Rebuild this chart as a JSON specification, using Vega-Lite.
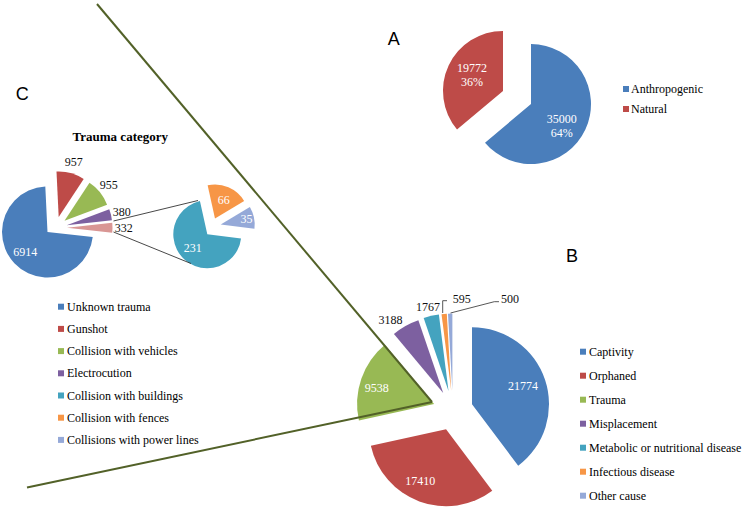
{
 "$schema": "https://vega.github.io/schema/vega-lite/v6.json",
 "width": 745,
 "height": 511,
 "autosize": "none",
 "padding": 0,
 "background": "white",
 "config": {"view": {"stroke": null}, "text": {"font": "Liberation Serif", "fontSize": 12}, "legend": {"labelFont": "Liberation Serif", "labelFontSize": 12, "labelColor": "#000", "labelFontWeight": "normal"}},
 "datasets": {
  "a": [
   {"category": "Anthropogenic", "value": 35000, "pct": "64%", "order": 1},
   {"category": "Natural", "value": 19772, "pct": "36%", "order": 2}
  ],
  "b": [
   {"category": "Captivity", "value": 21774, "order": 1},
   {"category": "Orphaned", "value": 17410, "order": 2},
   {"category": "Trauma", "value": 9538, "order": 3},
   {"category": "Misplacement", "value": 3188, "order": 4},
   {"category": "Metabolic or nutritional disease", "value": 1767, "order": 5},
   {"category": "Infectious disease", "value": 595, "order": 6},
   {"category": "Other cause", "value": 500, "order": 7}
  ],
  "c": [
   {"category": "Unknown trauma", "value": 6914, "order": 1},
   {"category": "Gunshot", "value": 957, "order": 2},
   {"category": "Collision with vehicles", "value": 955, "order": 3},
   {"category": "Electrocution", "value": 380, "order": 4},
   {"category": "Other collisions", "value": 332, "order": 5}
  ],
  "csub": [
   {"category": "Collision with buildings", "value": 231, "order": 1},
   {"category": "Collision with fences", "value": 66, "order": 2},
   {"category": "Collisions with power lines", "value": 35, "order": 3}
  ]
 },
 "resolve": {"scale": {"color": "independent", "theta": "independent"}},
 "layer": [
  {
   "data": {"name": "a"},
   "transform": [{"stack": "value", "groupby": [], "sort": [{"field": "order", "order": "ascending"}], "offset": "normalize", "as": ["s0", "s1"]}],
   "encoding": {
    "x": {"datum": 517, "type": "quantitative", "scale": {"domain": [0, 745], "nice": false, "zero": false}, "axis": null},
    "y": {"datum": 97.5, "type": "quantitative", "scale": {"domain": [0, 511], "nice": false, "zero": false, "reverse": true}, "axis": null},
    "color": {"field": "category", "type": "nominal",
     "scale": {"domain": ["Anthropogenic", "Natural"], "range": ["#4a7ebb", "#be4b48"]},
     "legend": {"title": null, "orient": "none", "legendX": 620, "legendY": 83, "symbolType": "square", "symbolSize": 36, "symbolStrokeWidth": 0, "labelFont": "Liberation Serif", "labelFontSize": 12, "labelColor": "#000", "labelOffset": -1, "rowPadding": 8, "padding": 0, "labelLimit": 300}}
   },
   "layer": [
    {"transform": [{"filter": "datum.category === 'Anthropogenic'"}], "mark": {"type": "arc", "outerRadius": 60, "xOffset": 14, "yOffset": 6.6},
     "encoding": {"theta": {"field": "s0", "type": "quantitative", "scale": {"domain": [0, 1], "range": [0, 6.283185]}}, "theta2": {"field": "s1"}}},
    {"transform": [{"filter": "datum.category === 'Natural'"}], "mark": {"type": "arc", "outerRadius": 60, "xOffset": -14, "yOffset": -6.6},
     "encoding": {"theta": {"field": "s0", "type": "quantitative", "scale": {"domain": [0, 1], "range": [0, 6.283185]}}, "theta2": {"field": "s1"}}},
    {"mark": {"type": "text", "radius": 52, "xOffset": -2.4, "yOffset": 6.8, "dy": -7},
     "encoding": {"theta": {"field": "value", "type": "quantitative", "stack": "normalize", "scale": {"domain": [0, 1], "range": [0, 6.283185]}}, "order": {"field": "order", "type": "quantitative"}, "color": {"value": "white"},
      "text": {"condition": {"test": "datum.category === 'Anthropogenic'", "field": "value", "type": "quantitative", "format": "d"}, "value": ""}}},
    {"mark": {"type": "text", "radius": 52, "xOffset": -2.4, "yOffset": 6.8, "dy": 7},
     "encoding": {"theta": {"field": "value", "type": "quantitative", "stack": "normalize", "scale": {"domain": [0, 1], "range": [0, 6.283185]}}, "order": {"field": "order", "type": "quantitative"}, "color": {"value": "white"},
      "text": {"condition": {"test": "datum.category === 'Anthropogenic'", "field": "pct", "type": "nominal"}, "value": ""}}},
    {"mark": {"type": "text", "radius": 52, "xOffset": 2.1, "yOffset": -0.5, "dy": -7},
     "encoding": {"theta": {"field": "value", "type": "quantitative", "stack": "normalize", "scale": {"domain": [0, 1], "range": [0, 6.283185]}}, "order": {"field": "order", "type": "quantitative"}, "color": {"value": "white"},
      "text": {"condition": {"test": "datum.category === 'Natural'", "field": "value", "type": "quantitative", "format": "d"}, "value": ""}}},
    {"mark": {"type": "text", "radius": 52, "xOffset": 2.1, "yOffset": -0.5, "dy": 7},
     "encoding": {"theta": {"field": "value", "type": "quantitative", "stack": "normalize", "scale": {"domain": [0, 1], "range": [0, 6.283185]}}, "order": {"field": "order", "type": "quantitative"}, "color": {"value": "white"},
      "text": {"condition": {"test": "datum.category === 'Natural'", "field": "pct", "type": "nominal"}, "value": ""}}}
   ]
  },
  {
   "data": {"name": "b"},
   "transform": [{"stack": "value", "groupby": [], "sort": [{"field": "order", "order": "ascending"}], "offset": "normalize", "as": ["s0", "s1"]}],
   "encoding": {
    "x": {"datum": 453, "type": "quantitative", "scale": {"domain": [0, 745], "nice": false, "zero": false}, "axis": null},
    "y": {"datum": 410.5, "type": "quantitative", "scale": {"domain": [0, 511], "nice": false, "zero": false, "reverse": true}, "axis": null},
    "color": {"field": "category", "type": "nominal",
     "scale": {"domain": ["Captivity", "Orphaned", "Trauma", "Misplacement", "Metabolic or nutritional disease", "Infectious disease", "Other cause"], "range": ["#4a7ebb", "#be4b48", "#98b954", "#7d60a0", "#44a3bf", "#f79646", "#95a9d8"]},
     "legend": {"title": null, "orient": "none", "legendX": 577, "legendY": 345.7, "symbolType": "square", "symbolSize": 36, "symbolStrokeWidth": 0, "labelFont": "Liberation Serif", "labelFontSize": 12, "labelColor": "#000", "labelOffset": 0, "rowPadding": 12, "padding": 0, "labelLimit": 300}}
   },
   "layer": [
    {"transform": [{"filter": "datum.category === 'Captivity'"}], "mark": {"type": "arc", "outerRadius": 77, "xOffset": 19, "yOffset": -6.3},
     "encoding": {"theta": {"field": "s0", "type": "quantitative", "scale": {"domain": [0, 1], "range": [0, 6.283185]}}, "theta2": {"field": "s1"}}},
    {"transform": [{"filter": "datum.category === 'Orphaned'"}], "mark": {"type": "arc", "outerRadius": 77, "xOffset": -6.95, "yOffset": 18.75},
     "encoding": {"theta": {"field": "s0", "type": "quantitative", "scale": {"domain": [0, 1], "range": [0, 6.283185]}}, "theta2": {"field": "s1"}}},
    {"transform": [{"filter": "datum.category === 'Trauma'"}], "mark": {"type": "arc", "outerRadius": 77, "xOffset": -18.9, "yOffset": -6.5},
     "encoding": {"theta": {"field": "s0", "type": "quantitative", "scale": {"domain": [0, 1], "range": [0, 6.283185]}}, "theta2": {"field": "s1"}}},
    {"transform": [{"filter": "datum.category === 'Misplacement'"}], "mark": {"type": "arc", "outerRadius": 77, "xOffset": -9.8, "yOffset": -17.4},
     "encoding": {"theta": {"field": "s0", "type": "quantitative", "scale": {"domain": [0, 1], "range": [0, 6.283185]}}, "theta2": {"field": "s1"}}},
    {"transform": [{"filter": "datum.category === 'Metabolic or nutritional disease'"}], "mark": {"type": "arc", "outerRadius": 77, "xOffset": -4.5, "yOffset": -19.5},
     "encoding": {"theta": {"field": "s0", "type": "quantitative", "scale": {"domain": [0, 1], "range": [0, 6.283185]}}, "theta2": {"field": "s1"}}},
    {"transform": [{"filter": "datum.category === 'Infectious disease'"}], "mark": {"type": "arc", "outerRadius": 77, "xOffset": -1.8, "yOffset": -19.9},
     "encoding": {"theta": {"field": "s0", "type": "quantitative", "scale": {"domain": [0, 1], "range": [0, 6.283185]}}, "theta2": {"field": "s1"}}},
    {"transform": [{"filter": "datum.category === 'Other cause'"}], "mark": {"type": "arc", "outerRadius": 77, "xOffset": -0.6, "yOffset": -20},
     "encoding": {"theta": {"field": "s0", "type": "quantitative", "scale": {"domain": [0, 1], "range": [0, 6.283185]}}, "theta2": {"field": "s1"}}},
    {"mark": {"type": "text", "radius": 77, "xOffset": -3, "yOffset": 0},
     "encoding": {"theta": {"field": "value", "type": "quantitative", "stack": "normalize", "scale": {"domain": [0, 1], "range": [0, 6.283185]}}, "order": {"field": "order", "type": "quantitative"}, "color": {"value": "white"},
      "text": {"condition": {"test": "datum.category === 'Captivity'", "field": "value", "type": "quantitative", "format": "d"}, "value": ""}}},
    {"mark": {"type": "text", "radius": 77, "xOffset": -6, "yOffset": -2},
     "encoding": {"theta": {"field": "value", "type": "quantitative", "stack": "normalize", "scale": {"domain": [0, 1], "range": [0, 6.283185]}}, "order": {"field": "order", "type": "quantitative"}, "color": {"value": "white"},
      "text": {"condition": {"test": "datum.category === 'Orphaned'", "field": "value", "type": "quantitative", "format": "d"}, "value": ""}}},
    {"mark": {"type": "text", "radius": 77, "xOffset": -3.5, "yOffset": 2.7},
     "encoding": {"theta": {"field": "value", "type": "quantitative", "stack": "normalize", "scale": {"domain": [0, 1], "range": [0, 6.283185]}}, "order": {"field": "order", "type": "quantitative"}, "color": {"value": "white"},
      "text": {"condition": {"test": "datum.category === 'Trauma'", "field": "value", "type": "quantitative", "format": "d"}, "value": ""}}},
    {"mark": {"type": "text", "radius": 108, "xOffset": -9.7, "yOffset": 3.4},
     "encoding": {"theta": {"field": "value", "type": "quantitative", "stack": "normalize", "scale": {"domain": [0, 1], "range": [0, 6.283185]}}, "order": {"field": "order", "type": "quantitative"}, "color": {"value": "#111"},
      "text": {"condition": {"test": "datum.category === 'Misplacement'", "field": "value", "type": "quantitative", "format": "d"}, "value": ""}}},
    {"mark": {"type": "text", "radius": 108, "xOffset": -0.7, "yOffset": 1.4},
     "encoding": {"theta": {"field": "value", "type": "quantitative", "stack": "normalize", "scale": {"domain": [0, 1], "range": [0, 6.283185]}}, "order": {"field": "order", "type": "quantitative"}, "color": {"value": "#111"},
      "text": {"condition": {"test": "datum.category === 'Metabolic or nutritional disease'", "field": "value", "type": "quantitative", "format": "d"}, "value": ""}}},
    {"mark": {"type": "text", "radius": 108, "xOffset": 18.6, "yOffset": -3.8},
     "encoding": {"theta": {"field": "value", "type": "quantitative", "stack": "normalize", "scale": {"domain": [0, 1], "range": [0, 6.283185]}}, "order": {"field": "order", "type": "quantitative"}, "color": {"value": "#111"},
      "text": {"condition": {"test": "datum.category === 'Infectious disease'", "field": "value", "type": "quantitative", "format": "d"}, "value": ""}}},
    {"mark": {"type": "text", "radius": 108, "xOffset": 60.1, "yOffset": -3.3},
     "encoding": {"theta": {"field": "value", "type": "quantitative", "stack": "normalize", "scale": {"domain": [0, 1], "range": [0, 6.283185]}}, "order": {"field": "order", "type": "quantitative"}, "color": {"value": "#111"},
      "text": {"condition": {"test": "datum.category === 'Other cause'", "field": "value", "type": "quantitative", "format": "d"}, "value": ""}}}
   ]
  },
  {
   "encoding": {
    "color": {"field": "category", "type": "nominal",
     "scale": {"domain": ["Unknown trauma", "Gunshot", "Collision with vehicles", "Electrocution", "Collision with buildings", "Collision with fences", "Collisions with power lines"], "range": ["#4a7ebb", "#be4b48", "#98b954", "#7d60a0", "#44a3bf", "#f79646", "#95a9d8"]},
     "legend": {"title": null, "orient": "none", "legendX": 55, "legendY": 300.7, "symbolType": "square", "symbolSize": 36, "symbolStrokeWidth": 0, "labelFont": "Liberation Serif", "labelFontSize": 12, "labelColor": "#000", "labelOffset": 0, "rowPadding": 10.2, "padding": 0, "labelLimit": 300}}
   },
   "resolve": {"scale": {"theta": "independent"}},
   "layer": [
    {
     "data": {"name": "c"},
     "transform": [{"stack": "value", "groupby": [], "sort": [{"field": "order", "order": "ascending"}], "offset": "normalize", "as": ["s0", "s1"]}],
     "encoding": {
      "x": {"datum": 55.7, "type": "quantitative", "scale": {"domain": [0, 745], "nice": false, "zero": false}, "axis": null},
      "y": {"datum": 227.8, "type": "quantitative", "scale": {"domain": [0, 511], "nice": false, "zero": false, "reverse": true}, "axis": null}
     },
     "layer": [
      {"transform": [{"filter": "datum.category === 'Unknown trauma'"}], "mark": {"type": "arc", "outerRadius": 45.5, "xOffset": -8.2, "yOffset": 4.2},
       "encoding": {"theta": {"field": "s0", "type": "quantitative", "scale": {"domain": [0, 1], "range": [1.6802, 7.9634]}}, "theta2": {"field": "s1"}}},
      {"transform": [{"filter": "datum.category === 'Gunshot'"}], "mark": {"type": "arc", "outerRadius": 45.5, "xOffset": 3, "yOffset": -10.9},
       "encoding": {"theta": {"field": "s0", "type": "quantitative", "scale": {"domain": [0, 1], "range": [1.6802, 7.9634]}}, "theta2": {"field": "s1"}}},
      {"transform": [{"filter": "datum.category === 'Collision with vehicles'"}], "mark": {"type": "arc", "outerRadius": 45.5, "xOffset": 8.8, "yOffset": -7.05},
       "encoding": {"theta": {"field": "s0", "type": "quantitative", "scale": {"domain": [0, 1], "range": [1.6802, 7.9634]}}, "theta2": {"field": "s1"}}},
      {"transform": [{"filter": "datum.category === 'Electrocution'"}], "mark": {"type": "arc", "outerRadius": 45.5, "xOffset": 11, "yOffset": -2.6},
       "encoding": {"theta": {"field": "s0", "type": "quantitative", "scale": {"domain": [0, 1], "range": [1.6802, 7.9634]}}, "theta2": {"field": "s1"}}},
      {"transform": [{"filter": "datum.category === 'Other collisions'"}], "mark": {"type": "arc", "outerRadius": 45.5, "xOffset": 11.3, "yOffset": 0},
       "encoding": {"theta": {"field": "s0", "type": "quantitative", "scale": {"domain": [0, 1], "range": [1.6802, 7.9634]}}, "theta2": {"field": "s1"}, "color": {"value": "#d99694"}}},
      {"mark": {"type": "text", "radius": 39, "xOffset": -2, "yOffset": -2.8},
       "encoding": {"theta": {"field": "value", "type": "quantitative", "stack": "normalize", "scale": {"domain": [0, 1], "range": [1.6802, 7.9634]}}, "order": {"field": "order", "type": "quantitative"}, "color": {"value": "white"},
        "text": {"condition": {"test": "datum.order === 1", "field": "value", "type": "quantitative", "format": "d"}, "value": ""}}},
      {"mark": {"type": "text", "radius": 68},
       "encoding": {"theta": {"field": "value", "type": "quantitative", "stack": "normalize", "scale": {"domain": [0, 1], "range": [1.6802, 7.9634]}}, "order": {"field": "order", "type": "quantitative"}, "color": {"value": "#111"},
        "text": {"condition": {"test": "datum.order > 1", "field": "value", "type": "quantitative", "format": "d"}, "value": ""}}}
     ]
    },
    {
     "data": {"name": "csub"},
     "transform": [{"stack": "value", "groupby": [], "sort": [{"field": "order", "order": "ascending"}], "offset": "normalize", "as": ["s0", "s1"]}],
     "encoding": {
      "x": {"datum": 212.3, "type": "quantitative", "scale": {"domain": [0, 745], "nice": false, "zero": false}, "axis": null},
      "y": {"datum": 226.5, "type": "quantitative", "scale": {"domain": [0, 511], "nice": false, "zero": false, "reverse": true}, "axis": null}
     },
     "layer": [
      {"transform": [{"filter": "datum.category === 'Collision with buildings'"}], "mark": {"type": "arc", "outerRadius": 34, "xOffset": -5, "yOffset": 7.8},
       "encoding": {"theta": {"field": "s0", "type": "quantitative", "scale": {"domain": [0, 1], "range": [1.693, 7.976185]}}, "theta2": {"field": "s1"}}},
      {"transform": [{"filter": "datum.category === 'Collision with fences'"}], "mark": {"type": "arc", "outerRadius": 34, "xOffset": 2.7, "yOffset": -8},
       "encoding": {"theta": {"field": "s0", "type": "quantitative", "scale": {"domain": [0, 1], "range": [1.693, 7.976185]}}, "theta2": {"field": "s1"}}},
      {"transform": [{"filter": "datum.category === 'Collisions with power lines'"}], "mark": {"type": "arc", "outerRadius": 34, "xOffset": 8.4, "yOffset": -2},
       "encoding": {"theta": {"field": "s0", "type": "quantitative", "scale": {"domain": [0, 1], "range": [1.693, 7.976185]}}, "theta2": {"field": "s1"}}},
      {"mark": {"type": "text", "radius": 29},
       "encoding": {"theta": {"field": "value", "type": "quantitative", "stack": "normalize", "scale": {"domain": [0, 1], "range": [1.693, 7.976185]}}, "order": {"field": "order", "type": "quantitative"}, "color": {"value": "white"},
        "text": {"condition": {"test": "datum.order < 3", "field": "value", "type": "quantitative", "format": "d"}, "value": ""}}},
      {"mark": {"type": "text", "radius": 35},
       "encoding": {"theta": {"field": "value", "type": "quantitative", "stack": "normalize", "scale": {"domain": [0, 1], "range": [1.693, 7.976185]}}, "order": {"field": "order", "type": "quantitative"}, "color": {"value": "white"},
        "text": {"condition": {"test": "datum.order === 3", "field": "value", "type": "quantitative", "format": "d"}, "value": ""}}}
     ]
    }
   ]
  },
  {"data": {"values": [{}]}, "mark": {"type": "rule", "color": "#526128", "strokeWidth": 2},
   "encoding": {"x": {"datum": 97, "type": "quantitative", "scale": {"domain": [0, 745], "nice": false, "zero": false}, "axis": null}, "y": {"datum": 4, "type": "quantitative", "scale": {"domain": [0, 511], "nice": false, "zero": false, "reverse": true}, "axis": null}, "x2": {"datum": 432}, "y2": {"datum": 402}}},
  {"data": {"values": [{}]}, "mark": {"type": "rule", "color": "#526128", "strokeWidth": 2},
   "encoding": {"x": {"datum": 27, "type": "quantitative", "scale": {"domain": [0, 745], "nice": false, "zero": false}, "axis": null}, "y": {"datum": 487.5, "type": "quantitative", "scale": {"domain": [0, 511], "nice": false, "zero": false, "reverse": true}, "axis": null}, "x2": {"datum": 432}, "y2": {"datum": 402}}},
  {"data": {"values": [{}]}, "mark": {"type": "rule", "color": "#333", "strokeWidth": 0.9},
   "encoding": {"x": {"datum": 113.5, "type": "quantitative", "scale": {"domain": [0, 745], "nice": false, "zero": false}, "axis": null}, "y": {"datum": 221, "type": "quantitative", "scale": {"domain": [0, 511], "nice": false, "zero": false, "reverse": true}, "axis": null}, "x2": {"datum": 198}, "y2": {"datum": 200.5}}},
  {"data": {"values": [{}]}, "mark": {"type": "rule", "color": "#333", "strokeWidth": 0.9},
   "encoding": {"x": {"datum": 113.5, "type": "quantitative", "scale": {"domain": [0, 745], "nice": false, "zero": false}, "axis": null}, "y": {"datum": 232, "type": "quantitative", "scale": {"domain": [0, 511], "nice": false, "zero": false, "reverse": true}, "axis": null}, "x2": {"datum": 191}, "y2": {"datum": 263.5}}},
  {"data": {"values": [{}]}, "mark": {"type": "rule", "color": "#444", "strokeWidth": 0.9},
   "encoding": {"x": {"datum": 442.7, "type": "quantitative", "scale": {"domain": [0, 745], "nice": false, "zero": false}, "axis": null}, "y": {"datum": 313, "type": "quantitative", "scale": {"domain": [0, 511], "nice": false, "zero": false, "reverse": true}, "axis": null}, "x2": {"datum": 442.7}, "y2": {"datum": 300.7}}},
  {"data": {"values": [{}]}, "mark": {"type": "rule", "color": "#444", "strokeWidth": 0.9},
   "encoding": {"x": {"datum": 442.7, "type": "quantitative", "scale": {"domain": [0, 745], "nice": false, "zero": false}, "axis": null}, "y": {"datum": 300.7, "type": "quantitative", "scale": {"domain": [0, 511], "nice": false, "zero": false, "reverse": true}, "axis": null}, "x2": {"datum": 447}, "y2": {"datum": 300.7}}},
  {"data": {"values": [{}]}, "mark": {"type": "rule", "color": "#444", "strokeWidth": 0.9},
   "encoding": {"x": {"datum": 450.5, "type": "quantitative", "scale": {"domain": [0, 745], "nice": false, "zero": false}, "axis": null}, "y": {"datum": 313, "type": "quantitative", "scale": {"domain": [0, 511], "nice": false, "zero": false, "reverse": true}, "axis": null}, "x2": {"datum": 494.3}, "y2": {"datum": 301.7}}},
  {"data": {"values": [{}]}, "mark": {"type": "rule", "color": "#444", "strokeWidth": 0.9},
   "encoding": {"x": {"datum": 494.3, "type": "quantitative", "scale": {"domain": [0, 745], "nice": false, "zero": false}, "axis": null}, "y": {"datum": 301.7, "type": "quantitative", "scale": {"domain": [0, 511], "nice": false, "zero": false, "reverse": true}, "axis": null}, "x2": {"datum": 499}, "y2": {"datum": 301.7}}},
  {"data": {"values": [{}]}, "mark": {"type": "text", "text": "A", "font": "Liberation Sans", "fontSize": 18, "color": "#000"},
   "encoding": {"x": {"datum": 393.8, "type": "quantitative", "scale": {"domain": [0, 745], "nice": false, "zero": false}, "axis": null}, "y": {"datum": 39.7, "type": "quantitative", "scale": {"domain": [0, 511], "nice": false, "zero": false, "reverse": true}, "axis": null}}},
  {"data": {"values": [{}]}, "mark": {"type": "text", "text": "B", "font": "Liberation Sans", "fontSize": 18, "color": "#000"},
   "encoding": {"x": {"datum": 572, "type": "quantitative", "scale": {"domain": [0, 745], "nice": false, "zero": false}, "axis": null}, "y": {"datum": 257, "type": "quantitative", "scale": {"domain": [0, 511], "nice": false, "zero": false, "reverse": true}, "axis": null}}},
  {"data": {"values": [{}]}, "mark": {"type": "text", "text": "C", "font": "Liberation Sans", "fontSize": 18, "color": "#000"},
   "encoding": {"x": {"datum": 22.2, "type": "quantitative", "scale": {"domain": [0, 745], "nice": false, "zero": false}, "axis": null}, "y": {"datum": 95, "type": "quantitative", "scale": {"domain": [0, 511], "nice": false, "zero": false, "reverse": true}, "axis": null}}},
  {"data": {"values": [{}]}, "mark": {"type": "text", "text": "Trauma category", "font": "Liberation Serif", "fontSize": 13, "fontWeight": "bold", "color": "#000"},
   "encoding": {"x": {"datum": 120.3, "type": "quantitative", "scale": {"domain": [0, 745], "nice": false, "zero": false}, "axis": null}, "y": {"datum": 137, "type": "quantitative", "scale": {"domain": [0, 511], "nice": false, "zero": false, "reverse": true}, "axis": null}}}
 ]
}
